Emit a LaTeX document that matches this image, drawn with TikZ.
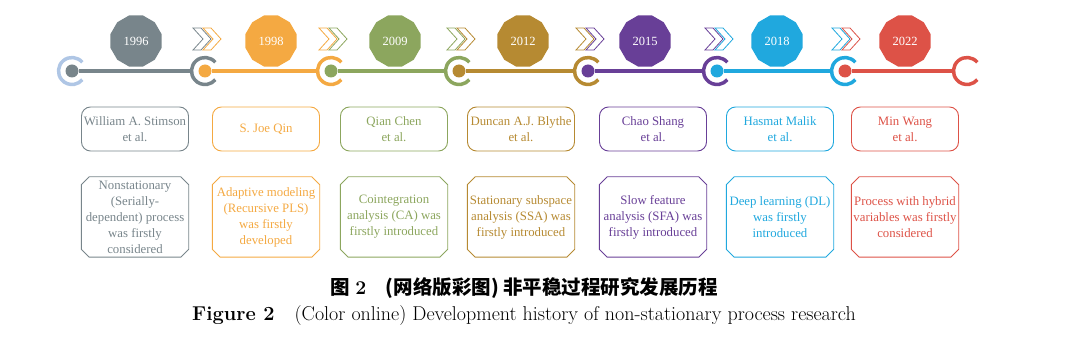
\documentclass[tikz,border=0pt]{standalone}
\usepackage{fontspec}
\usepackage{xcolor}
\usetikzlibrary{shapes.geometric}
\newfontfamily\timesfont{Liberation Serif}
\newfontfamily\cjk{Noto Sans CJK SC}
\definecolor{start}{HTML}{AFC6E5}
\definecolor{c96}{HTML}{78858B}
\definecolor{c98}{HTML}{F4A942}
\definecolor{c09}{HTML}{8CA65E}
\definecolor{c12}{HTML}{B68A32}
\definecolor{c15}{HTML}{683F97}
\definecolor{c18}{HTML}{20A8DE}
\definecolor{c22}{HTML}{DD5247}
% outline of a box with cut corners round a node
\newcommand{\chamfer}[2]{\draw[#2, line width=0.9pt] ([xshift=8pt]#1.north west) -- ([xshift=-8pt]#1.north east) -- ([yshift=-8pt]#1.north east) -- ([yshift=8pt]#1.south east) -- ([xshift=-8pt]#1.south east) -- ([xshift=8pt]#1.south west) -- ([yshift=8pt]#1.south west) -- ([yshift=-8pt]#1.north west) -- cycle;}
% one open chevron
\newcommand{\chev}[3]{\draw[#3, line width=0.8pt, line join=miter] (#1-9,#2+11) -- ++(8,0) -- ++(10,-11) -- ++(-10,-11) -- ++(-8,0) -- ++(10,11) -- cycle;}

\begin{document}
\begin{tikzpicture}[
    x=1pt, y=1pt,
    yr/.style={regular polygon, regular polygon sides=12, minimum size=53pt, inner sep=0pt, text=white, font=\timesfont\fontsize{12.5}{14}\selectfont},
    dot/.style={circle, inner sep=0pt, outer sep=0pt, minimum size=13pt},
    hub/.style={circle, inner sep=0pt, outer sep=0pt, minimum size=27pt},
    ring/.style={line width=3.5pt},
    seg/.style={line width=4.5pt},
    auth/.style={draw, rounded corners=9pt, line width=0.9pt, minimum width=107pt, minimum height=44pt, inner sep=0pt, align=center, font=\timesfont\fontsize{12.8}{16}\selectfont},
    work/.style={minimum width=107pt, minimum height=80pt, inner sep=0pt, align=center, font=\timesfont\fontsize{12.8}{16}\selectfont}
  ]
  \useasboundingbox (0,0) rectangle (1080,351);

  % timeline
  \foreach \i/\x in {1/72,2/205,3/331,4/459,5/588,6/717,7/845,8/967}
    \node[hub] (r\i) at (\x,280) {};
  \foreach \i/\c in {1/start,2/c96,3/c98,4/c09,5/c12,6/c15,7/c18,8/c22}
    \draw[ring, \c] (r\i.40) arc[start angle=40, end angle=320, radius=13.5pt];
  \foreach \i/\c in {1/c96,2/c98,3/c09,4/c12,5/c15,6/c18,7/c22}
    \node[dot, fill=\c] (d\i) at (r\i) {};
  \foreach \i/\j/\c in {1/2/c96,2/3/c98,3/4/c09,4/5/c12,5/6/c15,6/7/c18,7/8/c22}
    \draw[seg, \c] (d\i) -- (r\j.west);

  % years
  \node[yr, fill=c96] (y1) at (136,310) {1996};
  \node[yr, fill=c98] (y2) at (271,310) {1998};
  \node[yr, fill=c09] (y3) at (395,310) {2009};
  \node[yr, fill=c12] (y4) at (523,310) {2012};
  \node[yr, fill=c15] (y5) at (645,310) {2015};
  \node[yr, fill=c18] (y6) at (777,310) {2018};
  \node[yr, fill=c22] (y7) at (905,310) {2022};

  \chev{202}{312}{c96} \chev{212}{312}{c98}
  \chev{328}{312}{c98} \chev{338}{312}{c09}
  \chev{456}{312}{c09} \chev{466}{312}{c12}
  \chev{585}{312}{c12} \chev{595}{312}{c15}
  \chev{714}{312}{c15} \chev{724}{312}{c18}
  \chev{841}{312}{c18} \chev{851}{312}{c22}

  % authors
  \node[auth, c96] (a1) at (135,222) {William A. Stimson\\et al.};
  \node[auth, c98] (a2) at (266,222) {S. Joe Qin};
  \node[auth, c09] (a3) at (394,222) {Qian Chen\\et al.};
  \node[auth, c12] (a4) at (521,222) {Duncan A.J. Blythe\\et al.};
  \node[auth, c15] (a5) at (653,222) {Chao Shang\\et al.};
  \node[auth, c18] (a6) at (780,222) {Hasmat Malik\\et al.};
  \node[auth, c22] (a7) at (905,222) {Min Wang\\et al.};

  % what was done
  \node[work, text=c96] (w1) at (135,134) {Nonstationary\\(Serially-\\dependent) process\\was firstly\\considered};
  \node[work, text=c98] (w2) at (266,134) {Adaptive modeling\\(Recursive PLS)\\was firstly\\developed};
  \node[work, text=c09] (w3) at (394,134) {Cointegration\\analysis (CA) was\\firstly introduced};
  \node[work, text=c12] (w4) at (521,134) {Stationary subspace\\analysis (SSA) was\\firstly introduced};
  \node[work, text=c15] (w5) at (653,134) {Slow feature\\analysis (SFA) was\\firstly introduced};
  \node[work, text=c18] (w6) at (780,134) {Deep learning (DL)\\was firstly\\introduced};
  \node[work, text=c22] (w7) at (905,134) {Process with hybrid\\variables was firstly\\considered};
  \chamfer{w1}{c96} \chamfer{w2}{c98} \chamfer{w3}{c09} \chamfer{w4}{c12}
  \chamfer{w5}{c15} \chamfer{w6}{c18} \chamfer{w7}{c22}

  % caption
  \node[font=\fontsize{19.5}{22}\selectfont] (cn) at (524,63)
    {{\cjk\bfseries 图}~\textbf{2}\quad{\cjk\bfseries (网络版彩图) 非平稳过程研究发展历程}};
  \node[font=\fontsize{20}{22}\selectfont] (en) at (524,35)
    {\textbf{Figure 2}\quad(Color online) Development history of non-stationary process research};
\end{tikzpicture}
\end{document}
